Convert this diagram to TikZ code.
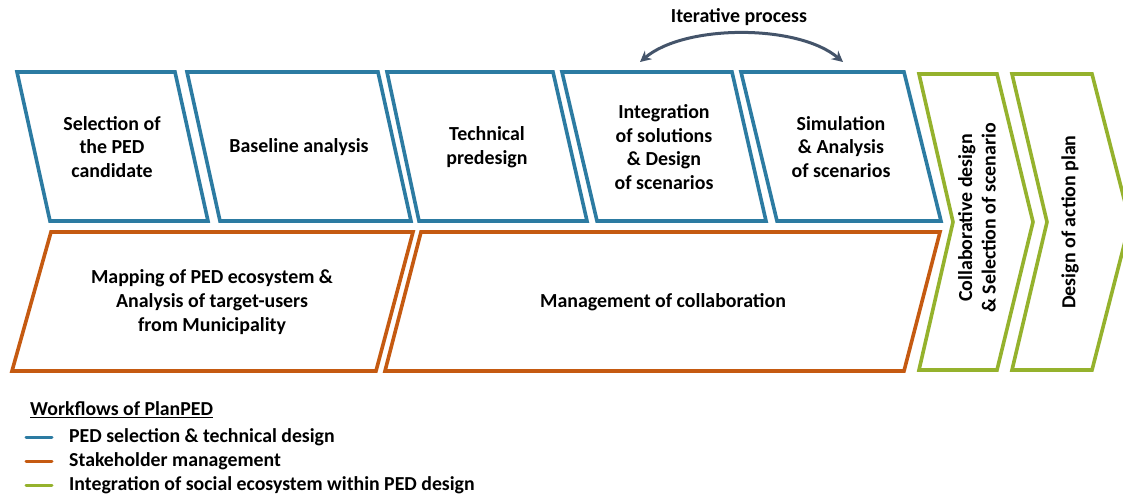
\documentclass[tikz,border=0pt]{standalone}
\usepackage{fontspec}
\setmainfont{Carlito}
\usetikzlibrary{arrows.meta}
\definecolor{pedblue}{HTML}{2C7BA2}
\definecolor{stakeorange}{HTML}{C55A11}
\definecolor{socialgreen}{HTML}{95B22D}
\definecolor{slate}{HTML}{44546A}

\begin{document}
\begin{tikzpicture}[x=1pt,y=-1pt,
  box/.style={line width=3.6pt, line join=miter, fill=white},
  bluebox/.style={box, draw=pedblue},
  orangebox/.style={box, draw=stakeorange},
  greenbox/.style={box, draw=socialgreen},
  lbl/.style={align=center, font=\bfseries\fontsize{19.9}{23.6}\selectfont, text=black, inner sep=0pt},
  legtext/.style={anchor=west, font=\bfseries\fontsize{19.8}{23.6}\selectfont, inner sep=0pt},
  legline/.style={line width=3pt, line cap=round}
]
\clip (0,0) rectangle (1123,495);
\fill[white] (0,0) rectangle (1123,495);

% PED selection & technical design (top row)
\draw[bluebox] (17,72) -- (175,72) -- (208,221) -- (50,221) -- cycle;
\draw[bluebox] (187,72) -- (378,72) -- (411,221) -- (220,221) -- cycle;
\draw[bluebox] (387,72) -- (553,72) -- (587,221) -- (419,221) -- cycle;
\draw[bluebox] (562,72) -- (732,72) -- (766,221) -- (597,221) -- cycle;
\draw[bluebox] (741,72) -- (904,72) -- (941,221) -- (777,221) -- cycle;

% Stakeholder management (bottom row)
\draw[orangebox] (51,232) -- (413,232) -- (376,371) -- (12,371) -- cycle;
\draw[orangebox] (421,232) -- (940,232) -- (904,371) -- (385,371) -- cycle;

% Social ecosystem chevrons
\draw[greenbox] (919,74) -- (997,74) -- (1033,222) -- (997,370) -- (919,370) -- (953,222) -- cycle;
\draw[greenbox] (1012,74) -- (1092,74) -- (1130,222) -- (1092,370) -- (1012,370) -- (1047,222) -- cycle;

% Step labels
\node[lbl] (sel)   at (112,147) {Selection of\\the PED\\candidate};
\node[lbl] (base)  at (299,147) {Baseline analysis};
\node[lbl] (tech)  at (487,147) {Technical\\predesign};
\node[lbl] (integ) at (664,147) {Integration\\of solutions\\\& Design\\of scenarios};
\node[lbl] (simu)  at (841,147) {Simulation\\\& Analysis\\of scenarios};
\node[lbl] (map)   at (212,302) {Mapping of PED ecosystem \&\\Analysis of target-users\\from Municipality};
\node[lbl] (mgmt)  at (663,302) {Management of collaboration};
\node[lbl, rotate=90] (collab) at (977,218) {Collaborative design\\\& Selection of scenario};
\node[lbl, rotate=90] (action) at (1070,222) {Design of action plan};

% Iteration loop between integration and simulation
\node[lbl] (iter) at (739,17) {Iterative process};
\coordinate (itL) at (640,62);
\coordinate (itR) at (843,62);
\draw[slate, line width=3pt, {Stealth[length=11pt,width=11pt]}-{Stealth[length=11pt,width=11pt]}]
  (itL) .. controls (685,24) and (798,24) .. (itR);

% Legend
\node[legtext] (legtitle) at (30,410) {\underline{Workflows of PlanPED}};
\coordinate (l1a) at (26,437); \coordinate (l1b) at (52,437);
\coordinate (l2a) at (26,461); \coordinate (l2b) at (52,461);
\coordinate (l3a) at (26,485); \coordinate (l3b) at (52,485);
\draw[legline, pedblue] (l1a) -- (l1b);
\draw[legline, stakeorange] (l2a) -- (l2b);
\draw[legline, socialgreen] (l3a) -- (l3b);
\node[legtext] (leg1) at (69,437) {PED selection \& technical design};
\node[legtext] (leg2) at (69,461) {Stakeholder management};
\node[legtext] (leg3) at (69,485) {Integration of social ecosystem within PED design};
\end{tikzpicture}
\end{document}
